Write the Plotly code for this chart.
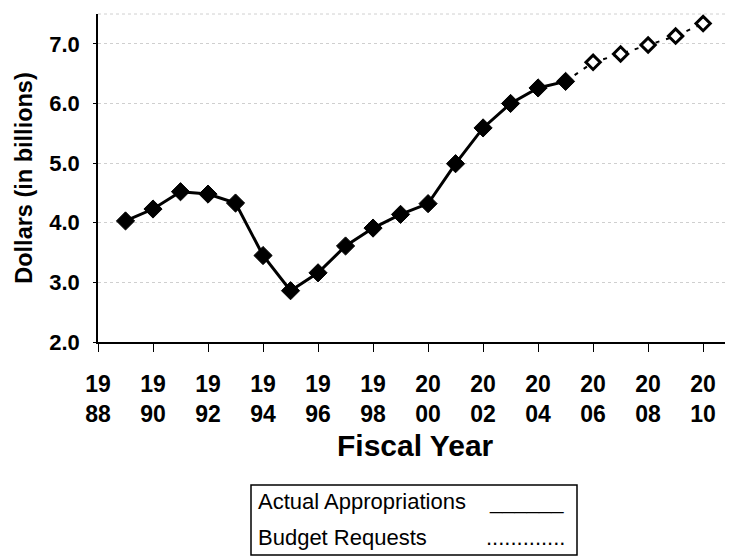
import plotly.graph_objects as go

# ---- data ----
actual_years = [1989, 1990, 1991, 1992, 1993, 1994, 1995, 1996, 1997, 1998,
                1999, 2000, 2001, 2002, 2003, 2004, 2005]
actual_values = [4.03, 4.23, 4.52, 4.48, 4.33, 3.45, 2.86, 3.16, 3.61, 3.91,
                 4.14, 4.32, 4.99, 5.59, 6.00, 6.26, 6.37]
request_years = [2006, 2007, 2008, 2009, 2010]
request_values = [6.69, 6.83, 6.98, 7.13, 7.34]

x_tick_years = [1988, 1990, 1992, 1994, 1996, 1998, 2000, 2002, 2004, 2006, 2008, 2010]
x_tick_labels = ["19<br>88", "19<br>90", "19<br>92", "19<br>94", "19<br>96", "19<br>98",
                 "20<br>00", "20<br>02", "20<br>04", "20<br>06", "20<br>08", "20<br>10"]
y_tick_values = [2, 3, 4, 5, 6, 7]
y_tick_labels = ["2.0", "3.0", "4.0", "5.0", "6.0", "7.0"]

legend_labels = ["Actual Appropriations", "Budget Requests"]
legend_samples = ["______", "............."]

x_title = "Fiscal Year"
y_title = "Dollars (in billions)"

FONT = "Liberation Sans, Arial, sans-serif"

# page has an 8px body margin; figure is sized/offset to compensate
W, H = 725, 552
PL, PT, PW, PH = 98, 14, 634, 328   # plot area in page pixels


def px_x(p):
    return (p - PL) / PW


def px_y(p):
    return (PT + PH - p) / PH


fig = go.Figure()

# dashed connector for the budget requests (starting from last actual value)
fig.add_trace(go.Scatter(
    x=[actual_years[-1]] + request_years,
    y=[actual_values[-1]] + request_values,
    mode="lines",
    line=dict(color="black", width=2, dash="4px,7px"),
    hoverinfo="skip", showlegend=False,
))
fig.add_trace(go.Scatter(
    x=actual_years, y=actual_values, mode="lines+markers",
    line=dict(color="black", width=3),
    marker=dict(symbol="diamond", size=14, color="black", line=dict(color="black", width=1)),
    name=legend_labels[0], showlegend=False,
))
fig.add_trace(go.Scatter(
    x=request_years, y=request_values, mode="markers",
    marker=dict(symbol="diamond", size=11, color="white", line=dict(color="black", width=3)),
    name=legend_labels[1], showlegend=False,
))

# legend box (a text box in the original)
fig.add_shape(type="rect", xref="paper", yref="paper",
              x0=px_x(251), x1=px_x(577), y0=px_y(555), y1=px_y(485),
              line=dict(color="black", width=1.5), fillcolor="white")
rows_base = [510, 546]
for lab, samp, yb, sx in zip(legend_labels, legend_samples, rows_base, [487, 484]):
    fig.add_annotation(xref="paper", yref="paper", x=px_x(256), y=px_y(yb),
                       xanchor="left", yanchor="bottom", yshift=-6,
                       text=lab, showarrow=False,
                       font=dict(family=FONT, size=22, color="black"))
    fig.add_annotation(xref="paper", yref="paper", x=px_x(sx), y=px_y(yb),
                       xanchor="left", yanchor="bottom", yshift=-6,
                       text=samp, showarrow=False,
                       font=dict(family=FONT, size=22, color="black"))

# x-axis title
fig.add_annotation(xref="paper", yref="paper", x=px_x(415), y=px_y(445),
                   xanchor="center", yanchor="middle", text=x_title, showarrow=False,
                   font=dict(family=FONT, size=30, color="black", weight="bold"))

# faint top / right border
fig.add_shape(type="line", xref="paper", yref="paper", x0=0, x1=1, y0=1, y1=1,
              line=dict(color="#d0d0d0", width=1, dash="dot"))
fig.add_shape(type="line", xref="paper", yref="paper", x0=1, x1=1, y0=0, y1=1,
              line=dict(color="#d0d0d0", width=1, dash="dot"))

fig.update_layout(
    width=W, height=H,
    margin=dict(l=PL - 8, r=W - (PL - 8) - PW, t=PT - 8, b=H - (PT - 8) - PH),
    paper_bgcolor="white", plot_bgcolor="white",
    showlegend=False,
    font=dict(family=FONT, color="black"),
)
fig.update_xaxes(
    range=[1988, 2011.05], automargin=False,
    tickmode="array", tickvals=x_tick_years, ticktext=x_tick_labels,
    tickfont=dict(family=FONT, size=23, color="black", weight="bold"),
    ticks="outside", ticklen=8, tickcolor="black", tickwidth=1,
    ticklabelstandoff=13,
    showline=True, linecolor="black", linewidth=1.5,
    showgrid=False, zeroline=False,
)
fig.update_yaxes(
    range=[2, 7.5], automargin=False,
    tickmode="array", tickvals=y_tick_values, ticktext=y_tick_labels,
    tickfont=dict(family=FONT, size=22, color="black", weight="bold"),
    ticks="outside", ticklen=3, tickcolor="black", tickwidth=1,
    ticklabelstandoff=9,
    showline=True, linecolor="black", linewidth=1.5,
    showgrid=True, gridcolor="#cfcfcf", griddash="dot", gridwidth=1,
    zeroline=False,
    title=dict(text=y_title, font=dict(family=FONT, size=23.5, color="black", weight="bold"),
               standoff=10),
)

fig.write_html("out.html")
